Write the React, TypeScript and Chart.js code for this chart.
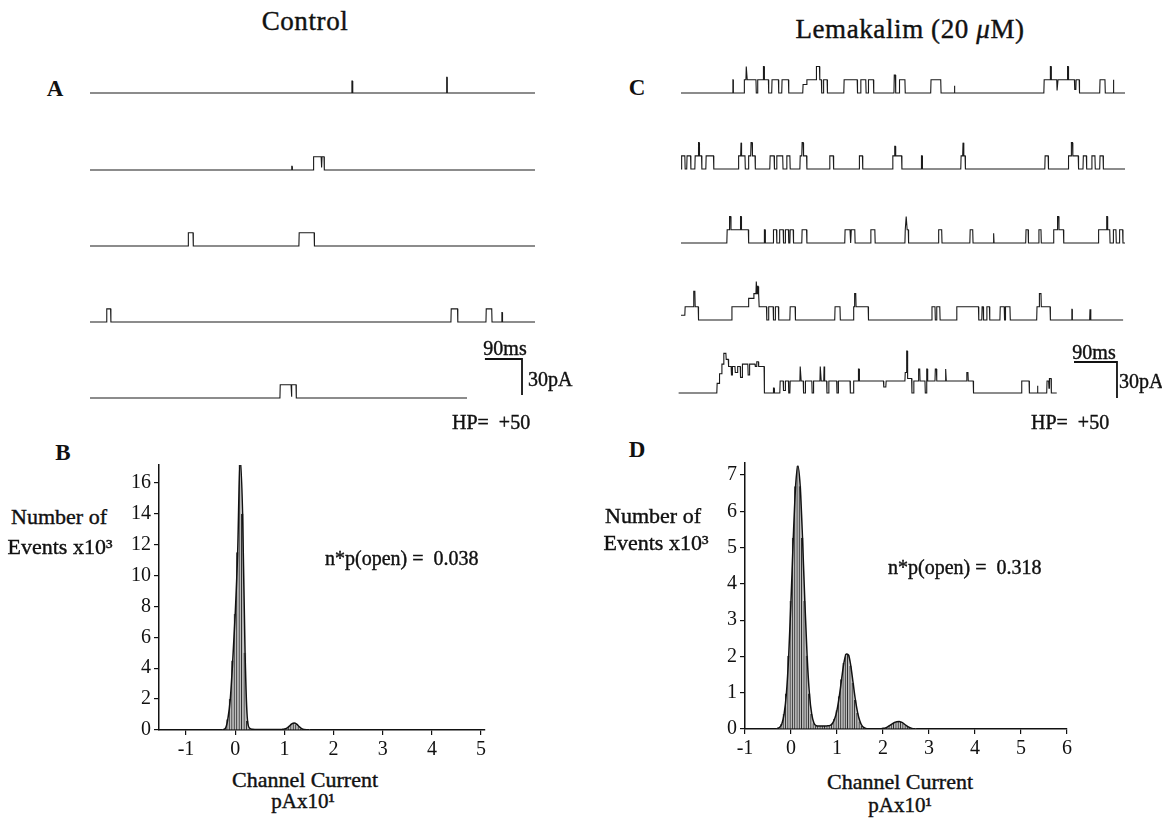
import React, { useEffect, useRef } from "react";
import { Chart, registerables } from "chart.js";

Chart.register(...registerables);

const FONT = '"Liberation Serif", "Times New Roman", serif';
const INK = "#111";

// ---------------- DATA ----------------
// Single-channel sweeps: [time (ms), current (pA)] steps; value holds until next step
const CONTROL_SWEEP_1 = [[0, 0], [635, 10], [637, 0], [865, 13], [866.5, 0], [1080, 0]];
const CONTROL_SWEEP_2 = [[0, 0], [489, 3], [490.5, 0], [542, 11], [561, 2], [562.5, 11], [568, 0], [1080, 0]];
const CONTROL_SWEEP_3 = [[0, 0], [238, 11], [250, 0], [507, 11], [544, 0], [1080, 0]];
const CONTROL_SWEEP_4 = [[0, 0], [40, 11], [50, 0], [876, 11], [892, 0], [961, 11], [975, 0], [999, 8], [1000.5, 0], [1080, 0]];
const CONTROL_SWEEP_5 = [[0, 0], [461, 11], [488, 1], [489.5, 11], [500, 0], [915, 0]];

const LEMAKALIM_SWEEP_1 = [
  [0, 0], [108, 11], [109, 0],
  [132, 11], [136, 22], [138, 11], [157, 0], [160, 11], [172, 22], [174, 11], [183, 0],
  [190, 11], [204, 0], [211, 11], [225, 0],
  [255, 7], [263, 11], [283, 22], [290, 11], [294, 0], [298, 11], [306, 0],
  [341, 11], [369, 0], [376, 11], [387, 0], [392, 11], [403, 0],
  [446, 15], [449, 0], [457, 11], [469, 0], [523, 11], [544, 0], [572, 6], [573, 0],
  [760, 11], [773, 22], [775, 11], [787, 2], [789, 11], [809, 22], [811, 11], [824, 3], [827, 11], [834, 0],
  [877, 11], [888, 0], [905, 11], [906, 0], [930, 0],
];
const LEMAKALIM_SWEEP_2 = [
  [0, 0], [1, 11], [8, 0], [12, 11], [20, 0], [29, 11], [36, 22], [38, 11], [43, 0], [52, 11], [68, 0],
  [120, 11], [125, 22], [126.5, 11], [134, 0], [141, 11], [146, 22], [149, 11], [155, 0],
  [186, 11], [195, 0], [200, 11], [213, 0], [221, 11], [228, 0],
  [249, 11], [253, 22], [256, 11], [263, 0], [311, 11], [319, 0], [373, 11], [380, 0],
  [443, 11], [447, 19], [449, 11], [462, 0], [503, 11], [505, 0],
  [586, 11], [590, 22], [592, 11], [595, 0], [762, 11], [769, 0],
  [811, 11], [817, 22], [820, 11], [832, 0], [842, 11], [849, 0], [860, 11], [867, 0], [877, 11], [884, 0],
  [930, 0],
];
const LEMAKALIM_SWEEP_3 = [
  [0, 0], [96, 11], [101, 22], [104, 11], [124, 22], [126, 11], [141, 0],
  [174, 11], [176, 0], [193, 11], [200, 0], [206, 11], [214, 0], [218, 11], [225, 0], [228, 11], [235, 0],
  [253, 11], [263, 0], [343, 11], [354, 0], [356, 11], [364, 0], [397, 11], [406, 0],
  [469, 11], [471, 22], [473, 11], [476, 0], [539, 11], [546, 0], [605, 11], [611, 0], [654, 8], [655, 0],
  [722, 11], [727, 0], [749, 11], [754, 0], [780, 11], [788, 22], [791, 11], [801, 0],
  [874, 11], [891, 22], [893, 11], [898, 0], [905, 11], [911, 0], [918, 11], [925, 0], [930, 0],
];
const LEMAKALIM_SWEEP_4 = [
  [0, 4], [8, 11], [26, 24], [29, 11], [36, 0],
  [106, 11], [141, 18], [152, 22], [157, 32], [158.5, 22], [160, 28], [161.5, 22], [163, 11], [179, 0],
  [183, 11], [193, 0], [197, 11], [204, 0], [228, 11], [239, 0], [322, 11], [333, 0],
  [361, 11], [363, 22], [366, 11], [392, 0], [525, 11], [532, 0], [535, 11], [542, 0],
  [577, 11], [623, 0], [630, 11], [633, 0], [640, 11], [646, 0], [668, 11], [677, 0], [679, 11], [689, 0],
  [745, 11], [750, 22], [754, 11], [773, 0], [818, 9], [819, 0], [856, 9], [858, 0], [926, 0],
];
const LEMAKALIM_SWEEP_5 = [
  [-5, 0], [75, 8], [80, 16], [85, 24], [89, 33], [94, 28], [99, 22], [105, 15], [107, 22], [113, 17], [118, 22],
  [124, 13], [128, 24], [140, 15], [143, 24], [155, 22], [158, 26], [162, 22], [174, 0], [193, 4], [195, 0],
  [207, 10], [214, 2], [218, 10], [225, 0], [228, 10], [249, 22], [251, 10], [256, 0], [260, 10], [274, 0],
  [277, 10], [291, 22], [293, 10], [299, 22], [300.5, 10], [305, 0], [309, 10], [326, 0], [329, 10], [354, 0],
  [361, 10], [371, 20], [373, 10], [424, 5], [429, 10], [469, 17], [472, 35], [474, 12], [483, 0], [487, 10],
  [497, 20], [500, 10], [511, 0], [514, 20], [516, 10], [532, 20], [535, 10], [553, 20], [555, 10],
  [598, 17], [601, 10], [612, 0], [713, 10], [729, 0], [746, 6], [747, 0], [766, 10], [770, 4], [771, 12], [775, 0],
  [787, 0],
];

const SCALE_MS = 90;
const SCALE_PA = 30;

// Amplitude histograms (Channel current pA x10^1 vs events x10^3)
const CONTROL_BINS = [-0.25, -0.2, -0.15, -0.1, -0.05, 0, 0.05, 0.1, 0.15, 0.2, 0.25, 0.3, 0.35, 0.4, 0.45, 0.5, 0.55, 0.6, 0.65, 0.7, 0.75, 0.8, 0.85, 0.9, 0.95, 1.0, 1.05, 1.1, 1.15, 1.2, 1.25, 1.3, 1.35, 1.4, 1.45, 1.5];
const CONTROL_COUNTS = [0.02, 0.1, 0.7, 2.0, 4.5, 7.5, 11.5, 17.6, 14.0, 5.0, 0.6, 0.1, 0.05, 0.04, 0.04, 0.03, 0.03, 0.03, 0.03, 0.03, 0.03, 0.03, 0.03, 0.03, 0.04, 0.06, 0.12, 0.25, 0.4, 0.46, 0.38, 0.22, 0.09, 0.03, 0.02, 0.02];
const LEMAKALIM_BINS = [-0.3, -0.25, -0.2, -0.15, -0.1, -0.05, 0, 0.05, 0.1, 0.15, 0.2, 0.25, 0.3, 0.35, 0.4, 0.45, 0.5, 0.55, 0.6, 0.65, 0.7, 0.75, 0.8, 0.85, 0.9, 0.95, 1.0, 1.05, 1.1, 1.15, 1.2, 1.25, 1.3, 1.35, 1.4, 1.45, 1.5, 1.55, 1.6, 1.65, 1.7, 1.75, 1.8, 1.85, 1.9, 1.95, 2.0, 2.05, 2.1, 2.15, 2.2, 2.25, 2.3, 2.35, 2.4, 2.45, 2.5, 2.55, 2.6, 2.65, 2.7];
const LEMAKALIM_COUNTS = [0.02, 0.04, 0.14, 0.41, 0.98, 2.02, 3.53, 5.27, 6.69, 7.25, 6.69, 5.27, 3.53, 2.02, 0.98, 0.41, 0.16, 0.09, 0.08, 0.08, 0.08, 0.08, 0.09, 0.1, 0.15, 0.28, 0.52, 0.9, 1.37, 1.82, 2.07, 2.04, 1.74, 1.27, 0.8, 0.44, 0.21, 0.08, 0.03, 0.01, 0.01, 0.01, 0.01, 0.01, 0.01, 0.01, 0.02, 0.03, 0.06, 0.1, 0.14, 0.18, 0.2, 0.21, 0.19, 0.15, 0.1, 0.06, 0.03, 0.01, 0.01];

const CONTROL_X_TICKS = [-1, 0, 1, 2, 3, 4, 5];
const CONTROL_Y_TICKS = [0, 2, 4, 6, 8, 10, 12, 14, 16];
const LEMAKALIM_X_TICKS = [-1, 0, 1, 2, 3, 4, 5, 6];
const LEMAKALIM_Y_TICKS = [0, 1, 2, 3, 4, 5, 6, 7];

// ---------------- LAYOUT ----------------
const RISE_MS = 0.7;
const PX_PER_PA = 1.2;
const TRACE_TOP = 60;
const TRACE_HEIGHT = 350;
const CONTROL_OFFSETS = [264.2, 200, 136.7, 73.3, 10];
const LEMAKALIM_OFFSETS = [264.2, 200.8, 139.2, 75, 14.2];

function buildSweep(steps: number[][], offset: number) {
  const pts: { x: number; y: number }[] = [];
  let prev = steps[0][1];
  pts.push({ x: steps[0][0], y: offset + prev });
  for (let i = 1; i < steps.length; i++) {
    const [t, v] = steps[i];
    pts.push({ x: t, y: offset + prev });
    if (v !== prev) pts.push({ x: t + RISE_MS, y: offset + v });
    prev = v;
  }
  return pts;
}

function TraceChart(props: {
  left: number; width: number; xMin: number; xMax: number;
  sweeps: number[][][]; offsets: number[]; barX: number; barY: number;
}) {
  const ref = useRef<HTMLCanvasElement>(null);
  useEffect(() => {
    const datasets: any[] = props.sweeps.map((s, i) => ({
      data: buildSweep(s, props.offsets[i]),
      borderColor: "#1a1a1a",
      borderWidth: 1.1,
      pointRadius: 0,
      tension: 0,
      fill: false,
    }));
    datasets.push({
      data: [
        { x: props.barX - SCALE_MS, y: props.barY },
        { x: props.barX, y: props.barY },
        { x: props.barX, y: props.barY - SCALE_PA },
      ],
      borderColor: INK,
      borderWidth: 1.8,
      borderJoinStyle: "miter",
      pointRadius: 0,
      tension: 0,
      fill: false,
    });
    const chart = new Chart(ref.current as HTMLCanvasElement, {
      type: "line",
      data: { datasets },
      options: {
        responsive: false,
        animation: false,
        devicePixelRatio: 1,
        events: [],
        layout: { padding: 0 },
        plugins: { legend: { display: false }, tooltip: { enabled: false } },
        scales: {
          x: { type: "linear", display: false, min: props.xMin, max: props.xMax },
          y: { type: "linear", display: false, min: 0, max: TRACE_HEIGHT / PX_PER_PA },
        },
      },
    } as any);
    return () => chart.destroy();
  }, []);
  return (
    <canvas
      ref={ref}
      width={props.width}
      height={TRACE_HEIGHT}
      style={{ position: "absolute", left: props.left, top: TRACE_TOP, width: props.width, height: TRACE_HEIGHT }}
    />
  );
}

function Histogram(props: {
  left: number; top: number; width: number; height: number;
  bins: number[]; counts: number[]; xMin: number; xMax: number; yMax: number;
  xTicks: number[]; yTicks: number[];
}) {
  const ref = useRef<HTMLCanvasElement>(null);
  useEffect(() => {
    const pts = props.bins.map((x, i) => ({ x, y: props.counts[i] }));
    const tickFont = { family: FONT, size: 20 };
    const axisCommon = {
      grid: { display: true, drawOnChartArea: false, drawTicks: true, tickLength: 5, color: INK, lineWidth: 1.2 },
      border: { display: true, color: INK, width: 1.5 },
    };
    const chart = new Chart(ref.current as HTMLCanvasElement, {
      type: "bar",
      data: {
        datasets: [
          {
            type: "line",
            data: pts,
            borderColor: INK,
            borderWidth: 1.5,
            pointRadius: 0,
            cubicInterpolationMode: "monotone",
            fill: false,
            order: 0,
          },
          {
            type: "bar",
            data: pts,
            backgroundColor: "#bdbdbd",
            borderColor: "#2a2a2a",
            borderWidth: { left: 1, right: 0, top: 0, bottom: 0 },
            barPercentage: 1,
            categoryPercentage: 1,
            order: 1,
          },
        ],
      },
      options: {
        responsive: false,
        animation: false,
        devicePixelRatio: 1,
        events: [],
        layout: { padding: { top: 20, right: 15, left: 0, bottom: 0 } },
        plugins: { legend: { display: false }, tooltip: { enabled: false } },
        scales: {
          x: {
            type: "linear",
            offset: false,
            min: props.xMin,
            max: props.xMax,
            afterBuildTicks: (s: any) => { s.ticks = props.xTicks.map((v) => ({ value: v })); },
            afterFit: (s: any) => { s.height = 35; },
            ...axisCommon,
            grid: { ...axisCommon.grid, offset: false },
            ticks: { color: INK, font: tickFont, padding: 3, maxRotation: 0, autoSkip: false },
          },
          y: {
            type: "linear",
            min: 0,
            max: props.yMax,
            afterBuildTicks: (s: any) => { s.ticks = props.yTicks.map((v) => ({ value: v })); },
            afterFit: (s: any) => { s.width = 50; },
            ...axisCommon,
            ticks: { color: INK, font: tickFont, padding: 3, autoSkip: false },
          },
        },
      },
    } as any);
    return () => chart.destroy();
  }, []);
  return (
    <canvas
      ref={ref}
      width={props.width}
      height={props.height}
      style={{ position: "absolute", left: props.left, top: props.top, width: props.width, height: props.height }}
    />
  );
}

function Label(props: { x: number; y: number; size?: number; bold?: boolean; anchor?: string; spacing?: number; children: any }) {
  const a = props.anchor || "center";
  const transform = a === "center" ? "translate(-50%,-50%)" : a === "left" ? "translate(0,-50%)" : "translate(-100%,-50%)";
  return (
    <div
      style={{
        position: "absolute",
        left: props.x,
        top: props.y,
        transform,
        fontFamily: FONT,
        fontSize: props.size || 20,
        fontWeight: props.bold ? 700 : 400,
        letterSpacing: props.spacing || 0,
        lineHeight: 1,
        whiteSpace: "pre",
        color: INK,
        WebkitTextStroke: props.bold ? "0px" : "0.4px #111",
      }}
    >
      {props.children}
    </div>
  );
}

export default function App() {
  return (
    <div style={{ position: "absolute", left: 0, top: 0, width: 1162, height: 818, background: "#fff", overflow: "hidden" }}>
      <Label x={305} y={21} size={27} spacing={0.6}>Control</Label>
      <Label x={910} y={29} size={27} spacing={0.6}>Lemakalim (20 <i>μ</i>M)</Label>

      <Label x={55} y={88} size={23} bold>A</Label>
      <Label x={637} y={87} size={23} bold>C</Label>
      <Label x={63} y={452} size={23} bold>B</Label>
      <Label x={637} y={449} size={23} bold>D</Label>

      <TraceChart
        left={80} width={465} xMin={-24.27} xMax={1104.3}
        sweeps={[CONTROL_SWEEP_1, CONTROL_SWEEP_2, CONTROL_SWEEP_3, CONTROL_SWEEP_4, CONTROL_SWEEP_5]}
        offsets={CONTROL_OFFSETS} barX={1048.5} barY={42.5}
      />
      <TraceChart
        left={660} width={480} xMin={-43.99} xMax={961.4}
        sweeps={[LEMAKALIM_SWEEP_1, LEMAKALIM_SWEEP_2, LEMAKALIM_SWEEP_3, LEMAKALIM_SWEEP_4, LEMAKALIM_SWEEP_5]}
        offsets={LEMAKALIM_OFFSETS} barX={913.2} barY={40}
      />

      <Label x={505} y={348}>90ms</Label>
      <Label x={528} y={379} anchor="left">30pA</Label>
      <Label x={452} y={422} anchor="left">{"HP=  +50"}</Label>
      <Label x={1094} y={352}>90ms</Label>
      <Label x={1119} y={381} anchor="left">30pA</Label>
      <Label x={1031} y={422} anchor="left">{"HP=  +50"}</Label>

      <Histogram
        left={109} top={445} width={391} height={320}
        bins={CONTROL_BINS} counts={CONTROL_COUNTS}
        xMin={-1.55} xMax={5.08} yMax={17.15}
        xTicks={CONTROL_X_TICKS} yTicks={CONTROL_Y_TICKS}
      />
      <Histogram
        left={695} top={443} width={387} height={321}
        bins={LEMAKALIM_BINS} counts={LEMAKALIM_COUNTS}
        xMin={-1} xMax={6} yMax={7.33}
        xTicks={LEMAKALIM_X_TICKS} yTicks={LEMAKALIM_Y_TICKS}
      />

      <Label x={59} y={517} size={22}>Number of</Label>
      <Label x={60} y={547} size={22}>Events x10³</Label>
      <Label x={653} y={516} size={22}>Number of</Label>
      <Label x={656} y={543} size={22}>Events x10³</Label>

      <Label x={325} y={558} anchor="left">{"n*p(open) =  0.038"}</Label>
      <Label x={888} y={567} anchor="left">{"n*p(open) =  0.318"}</Label>

      <Label x={305} y={780} size={22}>Channel Current</Label>
      <Label x={303} y={801} size={21}>pAx10¹</Label>
      <Label x={900} y={782} size={22}>Channel Current</Label>
      <Label x={900} y={805} size={21}>pAx10¹</Label>
    </div>
  );
}
